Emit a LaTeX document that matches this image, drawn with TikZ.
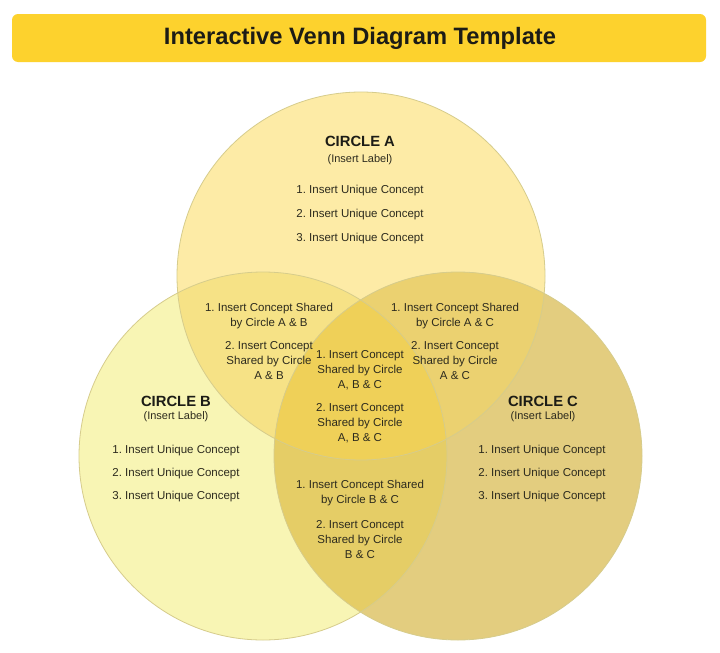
\documentclass[tikz,border=0pt]{standalone}
\usepackage{fontspec}
\setmainfont{Liberation Sans}
\usepackage{xcolor}
\usepackage{tikz}
\usetikzlibrary{positioning}
\frenchspacing
\definecolor{barYellow}{RGB}{253,210,45}
\definecolor{fillA}{RGB}{253,235,166}
\definecolor{fillB}{RGB}{248,245,180}
\definecolor{fillC}{RGB}{227,205,127}
\definecolor{fillAB}{RGB}{246,226,134}
\definecolor{fillAC}{RGB}{235,209,112}
\definecolor{fillBC}{RGB}{229,205,102}
\definecolor{fillABC}{RGB}{239,208,88}
\definecolor{rimInk}{RGB}{214,204,140}
\definecolor{headInk}{RGB}{28,28,22}
\definecolor{bodyInk}{RGB}{45,43,30}
\tikzset{
  heading/.style={font=\bfseries\fontsize{14.8}{16}\selectfont, text=headInk, inner sep=0pt, yshift=-1.5pt},
  sublabel/.style={font=\fontsize{11}{12}\selectfont, text=bodyInk, inner sep=0pt, yshift=-1.5pt},
  item/.style={font=\fontsize{11.5}{15}\selectfont, text=bodyInk, align=center, inner sep=0pt, yshift=-1.5pt},
}

\begin{document}
\begin{tikzpicture}[x=1pt,y=-1pt]
    \useasboundingbox (0,0) rectangle (720,653);
    \fill[white] (0,0) rectangle (720,653);

    % title bar
    \fill[barYellow, rounded corners=6pt] (12,14) rectangle (706,62);
    \node[font=\bfseries\fontsize{23.7}{26}\selectfont, text=headInk] at (360,38.5) (title) {Interactive Venn Diagram Template};

    % circles
    \coordinate (cA) at (361,276);
    \coordinate (cB) at (263,456);
    \coordinate (cC) at (458,456);
    \fill[fillA] (cA) circle (184pt);
    \fill[fillB] (cB) circle (184pt);
    \fill[fillC] (cC) circle (184pt);
    \begin{scope}
      \clip (cA) circle (184pt);
      \fill[fillAB] (cB) circle (184pt);
      \fill[fillAC] (cC) circle (184pt);
    \end{scope}
    \begin{scope}
      \clip (cB) circle (184pt);
      \fill[fillBC] (cC) circle (184pt);
    \end{scope}
    \begin{scope}
      \clip (cA) circle (184pt);
      \clip (cB) circle (184pt);
      \fill[fillABC] (cC) circle (184pt);
    \end{scope}
    \draw[rimInk, line width=0.8pt] (cA) circle (184pt);
    \draw[rimInk, line width=0.8pt] (cB) circle (184pt);
    \draw[rimInk, line width=0.8pt] (cC) circle (184pt);

    % circle A
    \node[heading] at (360,140) (headA) {CIRCLE A};
    \node[sublabel] at (360,158) (labA) {(Insert Label)};
    \node[item] at (360,189) (a1) {1. Insert Unique Concept};
    \node[item] at (360,213) (a2) {2. Insert Unique Concept};
    \node[item] at (360,237) (a3) {3. Insert Unique Concept};

    % circle B
    \node[heading] at (176,400) (headB) {CIRCLE B};
    \node[sublabel] at (176,415) (labB) {(Insert Label)};
    \node[item] at (176,449) (b1) {1. Insert Unique Concept};
    \node[item] at (176,472) (b2) {2. Insert Unique Concept};
    \node[item] at (176,495) (b3) {3. Insert Unique Concept};

    % circle C
    \node[heading] at (543,400) (headC) {CIRCLE C};
    \node[sublabel] at (543,415) (labC) {(Insert Label)};
    \node[item] at (542,449) (c1) {1. Insert Unique Concept};
    \node[item] at (542,472) (c2) {2. Insert Unique Concept};
    \node[item] at (542,495) (c3) {3. Insert Unique Concept};

    % shared A & B
    \node[item] at (269,315) (ab1) {1. Insert Concept Shared\\by Circle A \& B};
    \node[item] at (269,359) (ab2) {2. Insert Concept\\Shared by Circle\\A \& B};

    % shared A & C
    \node[item] at (455,315) (ac1) {1. Insert Concept Shared\\by Circle A \& C};
    \node[item] at (455,359) (ac2) {2. Insert Concept\\Shared by Circle\\A \& C};

    % shared A, B & C
    \node[item] at (360,369) (abc1) {1. Insert Concept\\Shared by Circle\\A, B \& C};
    \node[item] at (360,422) (abc2) {2. Insert Concept\\Shared by Circle\\A, B \& C};

    % shared B & C
    \node[item] at (360,492) (bc1) {1. Insert Concept Shared\\by Circle B \& C};
    \node[item] at (360,538) (bc2) {2. Insert Concept\\Shared by Circle\\B \& C};
\end{tikzpicture}
\end{document}
